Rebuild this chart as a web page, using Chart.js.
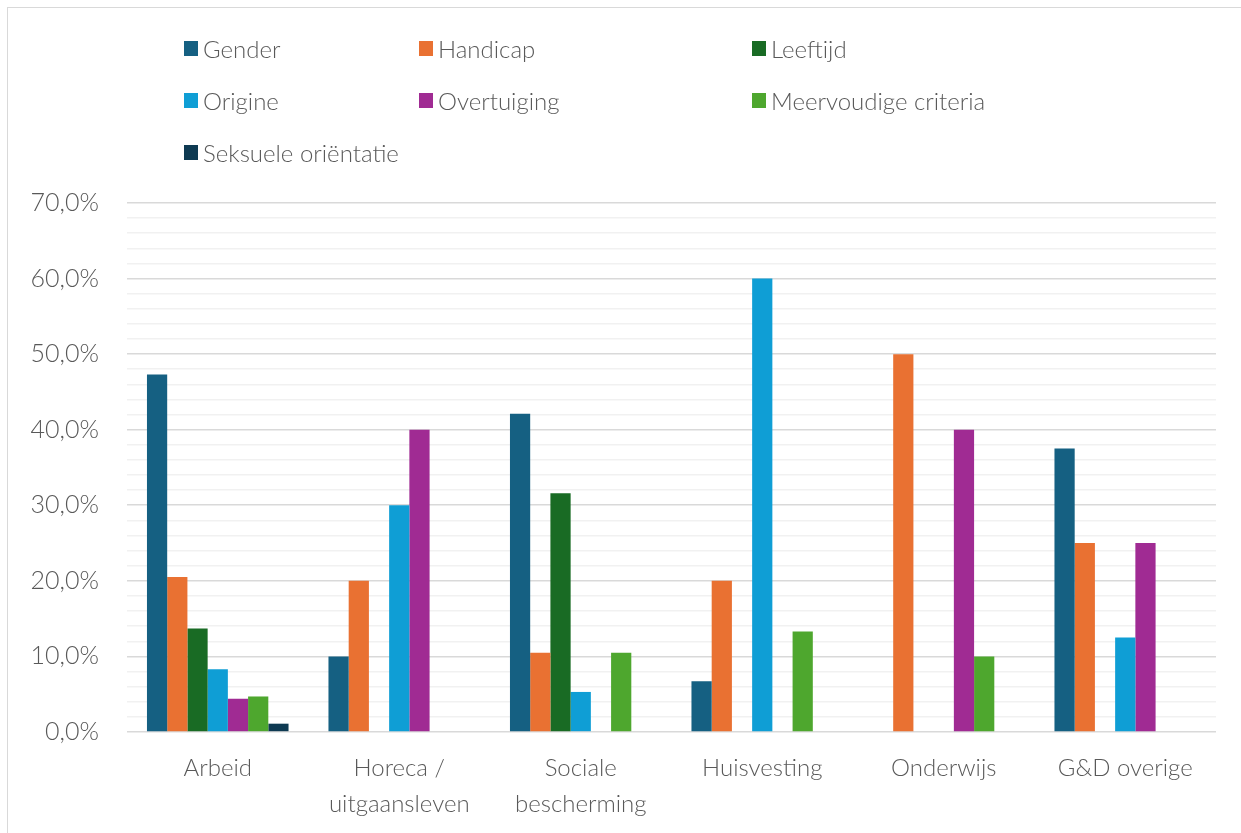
<!DOCTYPE html>
<html>
<head>
<meta charset="utf-8">
<script src="https://cdn.jsdelivr.net/npm/chart.js@4.4.1/dist/chart.umd.min.js"></script>
<style>
  html, body { margin: 0; padding: 0; background: #fff; }
  body { width: 1241px; height: 833px; position: relative; overflow: hidden; font-family: Lato, sans-serif; }
  #frame { position: absolute; left: 7px; top: 7px; width: 1260px; height: 860px; border: 1.5px solid #d9d9d9; box-sizing: border-box; }
  #wrap { position: absolute; left: 0; top: 0; width: 1241px; height: 833px; }
  #legend { position: absolute; left: 0; top: 0; }
  .item { position: absolute; display: flex; align-items: center; font-size: 24px; font-weight: 300; color: #595959; white-space: nowrap; height: 30px; }
  .box { width: 14px; height: 15px; margin-right: 5px; }
</style>
</head>
<body>
<div id="frame"></div>
<div id="wrap"><canvas id="discriminationChart"></canvas></div>
<div id="legend"></div>
<script>
// Categories and series (percentages)
const categories = ['Arbeid', ['Horeca /', 'uitgaansleven'], ['Sociale', 'bescherming'], 'Huisvesting', 'Onderwijs', 'G&D overige'];
const seriesNames = ['Gender', 'Handicap', 'Leeftijd', 'Origine', 'Overtuiging', 'Meervoudige criteria', 'Seksuele oriëntatie'];
const seriesColors = ['#156082', '#e97132', '#196b24', '#0f9ed5', '#a02b93', '#4ea72e', '#0e3a52'];

const gender      = [47.3, 10.0, 42.1,  6.7, null, 37.5];
const handicap    = [20.5, 20.0, 10.5, 20.0, 50.0, 25.0];
const leeftijd    = [13.7, null, 31.6, null, null, null];
const origine     = [ 8.3, 30.0,  5.3, 60.0, null, 12.5];
const overtuiging = [ 4.4, 40.0, null, null, 40.0, 25.0];
const meervoudig  = [ 4.7, null, 10.5, 13.3, 10.0, null];
const seksueel    = [ 1.1, null, null, null, null, null];

const yTicksMin = 0;
const yTicksMax = 70;
const yTickStep = 2;
const yLabelStep = 10;

const seriesValues = [gender, handicap, leeftijd, origine, overtuiging, meervoudig, seksueel];

function buildLegend(chart) {
    const legend = document.getElementById('legend');
    const colX = [184, 419, 752];
    const rowY = [48, 100, 152];
    chart.data.datasets.forEach((ds, i) => {
        const item = document.createElement('div');
        item.className = 'item';
        item.style.left = colX[i % 3] + 'px';
        item.style.top = (rowY[Math.floor(i / 3)] - 15) + 'px';
        const box = document.createElement('span');
        box.className = 'box';
        box.style.background = ds.backgroundColor;
        const label = document.createElement('span');
        label.textContent = ds.label;
        item.appendChild(box);
        item.appendChild(label);
        legend.appendChild(item);
    });
}

function initChart() {
    const ctx = document.getElementById('discriminationChart');
    const chart = new Chart(ctx, {
        type: 'bar',
        data: {
            labels: categories,
            datasets: seriesNames.map((name, i) => ({
                label: name,
                data: seriesValues[i],
                backgroundColor: seriesColors[i],
                borderWidth: 0,
                categoryPercentage: 0.78,
                barPercentage: 1.0
            }))
        },
        options: {
            responsive: true,
            maintainAspectRatio: false,
            animation: false,
            layout: { padding: { top: 203, right: 25, bottom: 0, left: 0 } },
            plugins: {
                legend: { display: false },
                tooltip: { enabled: false }
            },
            scales: {
                x: {
                    grid: { display: false, drawTicks: false },
                    border: { display: false },
                    ticks: {
                        color: '#595959',
                        padding: 18,
                        maxRotation: 0,
                        autoSkip: false,
                        font: { family: 'Lato', size: 24, weight: '300', lineHeight: '36px' }
                    },
                    afterFit: (scale) => { scale.height = 101; }
                },
                y: {
                    min: yTicksMin,
                    max: yTicksMax,
                    border: { display: false },
                    grid: {
                        drawTicks: false,
                        color: (c) => (c.tick && c.tick.value % yLabelStep === 0) ? '#d9d9d9' : '#f1f1f1',
                        lineWidth: 1.6
                    },
                    ticks: {
                        stepSize: yTickStep,
                        autoSkip: false,
                        padding: 28,
                        color: '#595959',
                        font: { family: 'Lato', size: 25, weight: '300' },
                        callback: (v) => v % yLabelStep === 0 ? v.toFixed(1).replace('.', ',') + '%' : ''
                    },
                    afterFit: (scale) => { scale.width = 127; }
                }
            }
        }
    });
    buildLegend(chart);
}

document.addEventListener('DOMContentLoaded', () => {
    document.fonts.load('300 24px Lato').then(initChart, initChart);
});
</script>
</body>
</html>
